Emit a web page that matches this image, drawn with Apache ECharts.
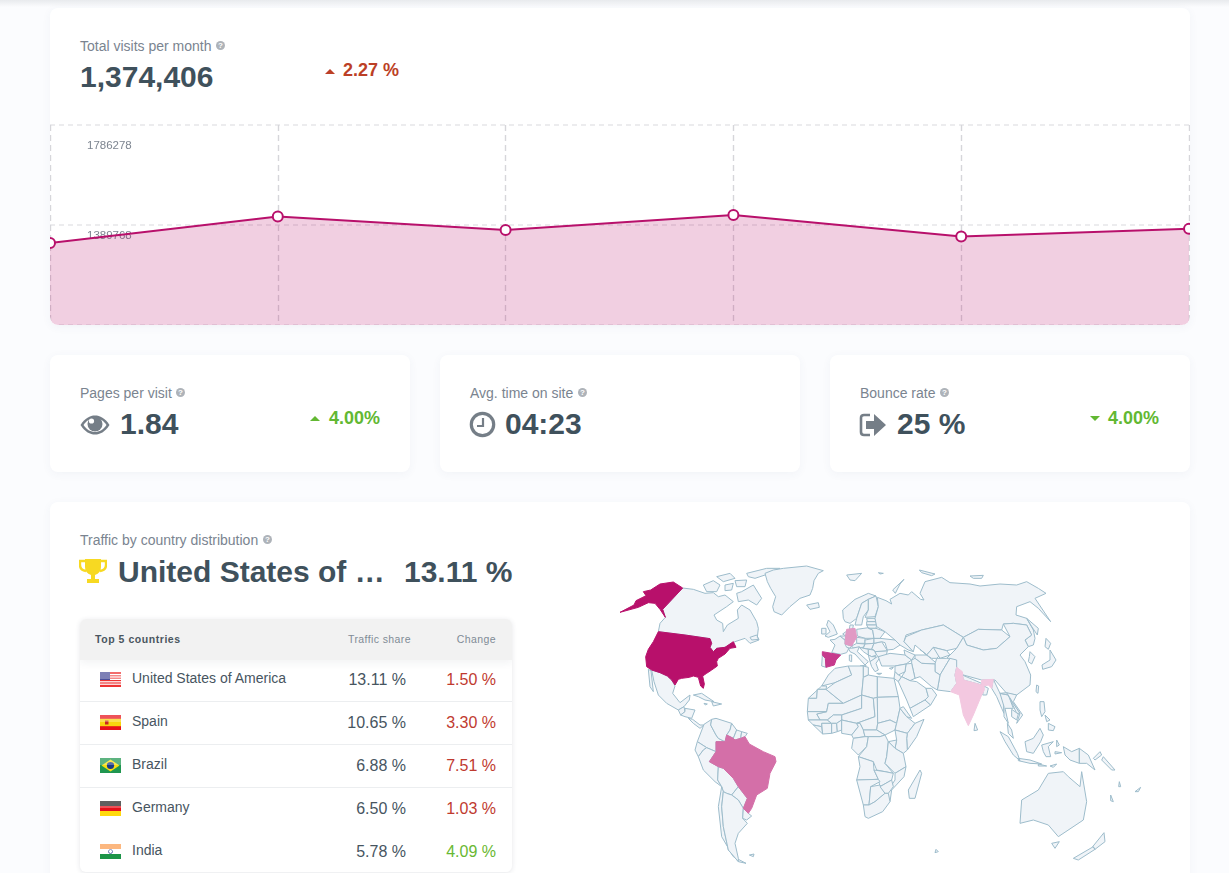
<!DOCTYPE html>
<html>
<head>
<meta charset="utf-8">
<title>Traffic overview</title>
<script src="https://cdn.jsdelivr.net/npm/echarts@6/dist/echarts.min.js"></script>
<style>
  html, body { margin: 0; padding: 0; width: 1229px; height: 873px; overflow: hidden; background: #fbfcfe;
    font-family: "Liberation Sans", Arial, sans-serif; }
  #page { position: relative; width: 1229px; height: 873px; overflow: hidden; }
  #topbar { position: absolute; left: 0; top: 0; width: 1229px; height: 7px;
    background: linear-gradient(#e8eaed, rgba(232,234,237,0)); }
  .card { position: absolute; background: #fff; border-radius: 8px; box-shadow: 0 2px 10px rgba(60,80,110,.05); }
  .abs { position: absolute; white-space: nowrap; }
  .caption { font-size: 14px; line-height: 16px; color: #7a8490; }
  .big { font-weight: bold; font-size: 30px; line-height: 34px; color: #3f515c; }
  .delta { font-weight: bold; font-size: 18px; line-height: 22px; }
  .q { position: absolute; width: 9px; height: 9px; border-radius: 50%; background: #aeb3b9; color: #fff;
    font-size: 8px; font-weight: bold; line-height: 9px; text-align: center; }
  .tri { position: absolute; width: 0; height: 0; border-left: 5px solid transparent; border-right: 5px solid transparent; }
  .up { border-bottom: 5px solid; }
  .down { border-top: 5px solid; }
  #chartBox { position: absolute; left: 0; top: 112px; width: 1140px; height: 205px; overflow: hidden;
    border-radius: 0 0 8px 8px; }
  #lineChart { width: 1140px; height: 205px; }
  #mapChart { position: absolute; left: 600px; top: 560px; width: 560px; height: 313px; }
  #table { position: absolute; left: 80px; top: 619px; width: 432px; height: 253px; background: #fff;
    border-radius: 6px; box-shadow: 0 1px 5px rgba(40,50,70,.12); overflow: hidden; }
  #thead { position: absolute; left: 0; top: 0; width: 432px; height: 41px; background: #f2f2f2;
    box-shadow: 0 3px 8px rgba(40,50,70,.06); z-index: 1; }
  .th { font-size: 10.5px; line-height: 14px; letter-spacing: .4px; color: #808b96; }
  .rowline { position: absolute; left: 0; width: 432px; height: 1px; background: #eceef0; }
  .name { font-size: 14px; line-height: 18px; color: #47555f; }
  .share { font-size: 16px; line-height: 20px; color: #47555f; }
</style>
</head>
<body>
<div id="page">
  <div id="topbar"></div>

  <div class="card" style="left:50px;top:8px;width:1140px;height:317px;overflow:hidden">
    <div id="chartBox"><div id="lineChart"></div></div>
  </div>
  <div class="abs caption" style="left:80px;top:38px">Total visits per month</div>
  <div class="q" style="left:216px;top:41px">?</div>
  <div class="abs big" id="totalVisits" style="left:80px;top:60px"></div>
  <div class="tri up" style="left:325px;top:69px;color:#bc3f26"></div>
  <div class="abs delta" id="totalDelta" style="left:343px;top:59px;color:#bc3f26"></div>

  <div class="card" style="left:50px;top:355px;width:360px;height:117px"></div>
  <div class="abs caption" style="left:80px;top:385px">Pages per visit</div>
  <div class="q" style="left:176px;top:388px">?</div>
  <svg class="abs" style="left:80px;top:413px" width="30" height="24" viewBox="0 0 30 24">
    <path d="M0.5 12C5 5 10 2.5 15 2.5S25 5 29.5 12C25 19 20 21.5 15 21.5S5 19 0.5 12Z" fill="#757e87"/>
    <path d="M3.5 12C7 7 11 5 15 5S23 7 26.5 12C23 17 19 19 15 19S7 17 3.5 12Z" fill="#fff"/>
    <circle cx="15" cy="11" r="7.5" fill="#757e87"/>
    <circle cx="11.5" cy="8" r="2.6" fill="#fff"/>
  </svg>
  <div class="abs big" style="left:120px;top:407px">1.84</div>
  <div class="tri up" style="left:310px;top:416px;color:#62b832"></div>
  <div class="abs delta" style="left:329px;top:407px;color:#62b832">4.00%</div>

  <div class="card" style="left:440px;top:355px;width:360px;height:117px"></div>
  <div class="abs caption" style="left:470px;top:385px">Avg. time on site</div>
  <div class="q" style="left:578px;top:388px">?</div>
  <svg class="abs" style="left:469px;top:411px" width="27" height="27" viewBox="0 0 27 27">
    <circle cx="13.5" cy="13.5" r="11.2" fill="none" stroke="#757e87" stroke-width="3.2"/>
    <path d="M14 7V15H8" fill="none" stroke="#757e87" stroke-width="2.2"/>
  </svg>
  <div class="abs big" style="left:505px;top:407px">04:23</div>

  <div class="card" style="left:830px;top:355px;width:360px;height:117px"></div>
  <div class="abs caption" style="left:860px;top:385px">Bounce rate</div>
  <div class="q" style="left:940px;top:388px">?</div>
  <svg class="abs" style="left:859px;top:412px" width="28" height="26" viewBox="0 0 28 26">
    <path d="M11 3H5Q2 3 2 6V20Q2 23 5 23H11" fill="none" stroke="#757e87" stroke-width="2.6"/>
    <path d="M7 9H15V2L27 13L15 24V17H7Z" fill="#757e87"/>
  </svg>
  <div class="abs big" style="left:897px;top:407px">25 %</div>
  <div class="tri down" style="left:1090px;top:416px;color:#62b832"></div>
  <div class="abs delta" style="left:1108px;top:407px;color:#62b832">4.00%</div>

  <div class="card" style="left:50px;top:502px;width:1140px;height:420px"></div>
  <div class="abs caption" style="left:80px;top:532px">Traffic by country distribution</div>
  <div class="q" style="left:263px;top:535px">?</div>
  <svg class="abs" style="left:79px;top:558px" width="28" height="26" viewBox="0 0 28 26">
    <path d="M6 1H22V9Q22 15 16 17V21H20V25H8V21H12V17Q6 15 6 9Z" fill="#f7d922"/>
    <path d="M6 3H1V7Q1 12 7 13M22 3H27V7Q27 12 21 13" fill="none" stroke="#f7d922" stroke-width="2.4"/>
  </svg>
  <div class="abs big" style="left:118px;top:555px">United States of …</div>
  <div class="abs big" id="topShare" style="left:404px;top:555px"></div>

  <div id="table">
    <div id="thead">
      <div class="abs th" style="left:15px;top:13px;font-weight:bold;letter-spacing:.55px;color:#4a5660">Top 5 countries</div>
      <div class="abs th" style="right:101px;top:13px">Traffic share</div>
      <div class="abs th" style="right:16px;top:13px">Change</div>
    </div>
  </div>

  <div id="mapChart"></div>
</div>

<script>
// Monthly visits for the trend panel
const periods = ['1', '2', '3', '4', '5', '6'];
const visits = [1318400, 1423500, 1369900, 1429400, 1343900, 1374406];
const visitAxisTicks = [993258, 1389768, 1786278];
const visitAxisLabels = [1389768, 1786278];
const visitChange = '2.27 %';

// Top countries by traffic share
const countries = ['United States of America', 'Spain', 'Brazil', 'Germany', 'India'];
const trafficShare = [13.11, 10.65, 6.88, 6.5, 5.78];
const shareChange = [1.5, 3.3, 7.51, 1.03, 4.09];
const changeRising = [false, false, false, false, true];
const shareShades = ['#b8106b', '#c63a8c', '#d46fa8', '#e19ac4', '#f3c8e0'];

// Planar country outlines, one sheet per hemisphere; each sheet has its own origin at 1/3 scale
const westOrigin = [610, 560];
const westOutlines = [
  ['United States of America',
    '190,66 218,84 158,148 166,172 150,148 135,130 115,128 85,142 30,157 72,135 78,122 108,107 100,95 122,90 150,72',
    '145,215 225,225 300,236 305,250 300,262 310,275 320,265 345,262 370,245 378,262 360,265 345,282 325,295 320,305 322,318 305,330 290,340 278,348 283,372 280,385 272,378 265,352 250,348 238,352 215,355 205,358 195,375 185,360 172,348 150,338 125,330 110,320 107,290 115,268 130,245'],
  ['Canada',
    '218,84 250,88 285,100 310,98 325,110 345,105 370,125 350,140 312,165 320,180 338,190 340,215 352,195 385,175 382,150 395,135 420,150 440,185 445,205 442,232 447,240 420,250 405,235 375,245 345,262 320,265 310,275 300,262 305,250 300,236 225,225 145,215 150,190 166,172 158,148',
    '280,75 310,62 330,75 320,95 290,95', '320,50 360,40 375,55 340,65', '375,62 410,60 405,80 380,80', '345,75 370,70 365,90 345,92',
    '380,100 395,95 430,75 455,115 440,135 415,120 385,125', '410,40 470,25 510,25 465,45 435,55 415,50',
    '420,232 440,225 447,238 425,240'],
  ['Greenland', '465,40 490,30 520,25 590,18 640,32 625,40 612,62 608,85 600,105 570,115 540,140 515,165 492,155 488,140 497,110 482,85 472,65'],
  ['Mexico', '125,330 150,338 172,348 185,360 195,378 188,400 210,428 240,405 238,420 222,440 205,450 170,430 145,405 132,365'],
  ['Baja California', '115,328 123,332 130,395 120,380'],
  ['Guatemala', '205,450 222,440 225,455 212,465'],
  ['Honduras', '225,445 255,450 245,475 225,470 212,465 225,455'],
  ['Panama', '235,475 248,478 270,495 282,495 270,505 250,490'],
  ['Cuba', '250,405 275,400 312,425 285,420 265,410'],
  ['Hispaniola', '305,425 335,432 310,438'],
  ['Jamaica', '282,430 292,432 286,435'],
  ['Colombia', '282,493 305,478 302,495 318,525 325,535 345,545 318,545 318,575 290,563 262,545'],
  ['Venezuela', '305,478 318,475 365,490 360,510 350,525 345,545 325,535 318,525 302,495'],
  ['Guyana', '365,490 380,510 370,535 350,525 360,510'],
  ['Suriname', '380,510 395,515 392,535 375,540 370,535'],
  ['French Guiana', '395,515 412,520 405,530 392,535'],
  ['Brazil', '318,545 345,545 350,525 370,535 375,540 392,535 405,530 418,552 460,575 495,590 498,605 480,640 472,685 440,705 425,745 415,760 400,745 412,715 385,680 370,655 340,625 325,620 298,605 318,575'],
  ['Ecuador', '262,545 290,563 280,570 265,590 255,570'],
  ['Peru', '265,590 280,570 290,563 318,575 298,605 325,620 323,660 335,680 315,665 280,630'],
  ['Bolivia', '325,620 340,625 370,655 385,680 365,705 350,700 340,695 335,680 323,660'],
  ['Paraguay', '365,705 385,680 412,715 400,745 385,720'],
  ['Chile', '335,680 340,695 335,740 340,800 355,870 385,905 408,910 370,890 335,830 325,740'],
  ['Argentina', '340,695 350,700 365,705 385,720 400,745 398,775 412,790 385,820 375,850 385,895 385,905 355,870 340,800 335,740'],
  ['Uruguay', '400,745 415,760 425,768 410,780 398,775'],
  ['Falkland Islands', '418,885 432,882 430,890']
];
const eastOrigin = [800, 560];
const eastOutlines = [
  ['Iceland', '20,135 55,128 58,142 30,148'],
  ['Svalbard', '140,45 185,40 165,62 150,60', '235,38 250,40 240,42'],
  ['Spain', '67,275 95,280 122,285 108,300 103,315 78,322 76,295 67,285'],
  ['Portugal', '67,285 76,295 78,322 65,318'],
  ['Germany', '140,208 165,205 170,232 155,258 135,252 137,228'],
  ['France', '90,240 105,238 120,228 135,240 135,252 150,258 140,278 122,283 95,278 105,255'],
  ['United Kingdom', '85,180 100,195 112,222 85,232 75,228 90,215 80,195'],
  ['Ireland', '65,205 78,205 78,222 65,222'],
  ['Netherlands', '128,222 142,212 137,228'],
  ['Belgium', '120,228 137,228 135,240'],
  ['Denmark', '150,195 160,195 158,208 148,208'],
  ['Norway', '130,175 128,150 165,118 205,100 228,108 205,118 185,130 170,175 150,190 135,185'],
  ['Sweden', '170,175 185,130 205,118 205,150 190,170 185,195 165,195'],
  ['Finland', '205,118 228,108 235,140 225,170 195,172 205,150'],
  ['Estonia', '200,175 225,175 228,185 202,185'],
  ['Latvia', '200,185 228,185 230,195 200,195'],
  ['Lithuania', '200,195 230,195 228,205 205,205'],
  ['Poland', '170,208 205,203 218,210 222,235 195,235 172,228'],
  ['Czechia', '170,232 195,235 195,250 170,250'],
  ['Switzerland', '135,252 155,258 150,265 140,262'],
  ['Austria', '155,258 170,250 195,252 190,262 160,264'],
  ['Slovakia', '195,240 222,235 222,250 195,252'],
  ['Hungary', '195,252 222,250 215,268 190,265'],
  ['Italy', '145,265 160,264 178,260 172,275 205,305 195,315 165,282 150,275', '180,318 198,315 195,328', '148,285 155,285 155,305 148,302'],
  ['Croatia', '178,262 205,268 205,285 190,275'],
  ['Serbia', '205,268 222,270 230,285 215,290 205,285'],
  ['Albania', '205,285 215,290 228,290 220,300 210,305'],
  ['Greece', '210,305 232,290 240,292 228,310 235,330 225,335 215,320', '230,340 245,340 238,344'],
  ['Bulgaria', '225,275 262,272 258,290 235,290 230,285'],
  ['Romania', '222,250 245,245 262,272 225,275 222,270 215,268'],
  ['Ukraine', '222,235 240,235 285,240 300,255 280,268 262,270 255,248 245,245 222,250'],
  ['Belarus', '205,205 228,205 255,215 240,235 222,235 218,210'],
  ['Turkey', '235,290 270,280 315,285 335,300 318,312 285,318 245,318 240,305'],
  ['Georgia', '312,270 345,285 335,300 315,285'],
  ['Cyprus', '268,325 280,322 275,328'],
  ['Russia',
    '232,112 258,122 275,132 270,118 300,100 325,105 335,95 362,118 372,120 360,100 375,65 425,52 450,68 510,72 540,78 600,72 650,75 680,65 715,85 738,100 705,115 752,185 715,145 690,125 650,140 648,165 680,175 700,210 705,235 700,255 685,260 675,240 695,225 680,195 640,190 610,192 605,210 535,208 490,232 430,195 365,210 318,225 312,245 340,275 325,270 300,255 285,240 255,215 230,200 225,175 235,140',
    '278,90 312,58 300,72 286,100', '358,30 405,42 395,47 365,38', '510,48 550,46 545,55 520,55', '680,175 715,205 712,225 692,195'],
  ['Kazakhstan', '318,230 365,210 430,195 490,232 470,265 440,272 400,262 380,285 360,268 345,255 340,275 312,245'],
  ['Mongolia', '490,232 535,208 605,210 630,230 590,265 550,270 500,255'],
  ['China', '490,232 500,255 550,270 590,265 630,230 610,192 640,190 680,195 695,225 675,240 685,260 660,285 675,305 692,345 690,375 650,405 620,400 585,360 545,360 490,345 470,322 440,295 470,265'],
  ['Turkmenistan', '345,285 380,285 410,310 405,312 365,310 345,295'],
  ['Uzbekistan', '360,268 380,285 400,262 420,285 410,295 395,295 380,285'],
  ['Kyrgyzstan', '400,262 440,272 450,285 420,295'],
  ['Afghanistan', '405,312 410,295 440,295 450,295 420,345 405,335'],
  ['Pakistan', '420,345 450,295 470,300 470,322 465,345 470,370 452,395 412,390'],
  ['Iran', '335,300 345,295 365,310 405,312 405,335 420,345 412,390 395,380 360,350 345,355 335,310'],
  ['Iraq', '318,312 335,310 345,355 330,362 305,350 315,335'],
  ['Syria', '285,318 318,312 315,335 295,345 285,335'],
  ['Jordan', '285,335 295,345 305,350 295,365 282,355'],
  ['Saudi Arabia', '295,365 305,350 330,362 350,365 378,385 385,410 375,420 330,445 320,420'],
  ['Yemen', '330,445 375,420 392,435 340,470'],
  ['Oman', '378,385 395,385 410,405 392,435 375,420 385,410'],
  ['India', '470,322 487,335 490,360 545,375 545,360 580,358 575,385 565,375 552,378 553,390 545,405 520,465 505,497 490,465 478,405 452,395 470,370 465,345'],
  ['Nepal', '487,345 545,370 545,375 490,360'],
  ['Bangladesh', '552,378 565,385 560,405 548,405'],
  ['Sri Lanka', '525,490 533,510 522,512'],
  ['Myanmar', '580,358 600,400 610,420 612,460 605,445 590,410 575,385'],
  ['Thailand', '600,400 625,405 640,445 615,445 625,490 612,470 612,440'],
  ['Laos', '600,400 620,398 640,430 660,460 650,460 625,405'],
  ['Vietnam', '620,398 650,405 640,425 668,465 650,490 660,460 640,430'],
  ['Cambodia', '635,448 655,462 650,480 635,470'],
  ['Malaysia', '622,490 635,510 640,535 625,520'],
  ['Taiwan', '710,375 716,378 714,400 708,395'],
  ['South Korea', '690,275 705,290 695,312 685,305 688,290'],
  ['Japan', '738,235 752,250 745,268 735,260', '750,270 768,300 755,320 728,328 726,315 750,300'],
  ['Philippines', '720,425 732,425 735,455 725,470 720,450', '745,490 765,500 760,512 745,510', '735,465 750,480 740,485'],
  ['Indonesia', '675,545 700,535 720,505 730,525 722,545 700,580 680,575', '600,515 625,530 652,580 660,602 640,585 615,545',
    '655,595 690,600 725,612 690,610 655,602', '725,555 760,545 745,560 752,590 738,590 730,575', '750,618 770,612 760,622',
    '715,612 740,618 715,618', '765,575 785,578 765,582', '770,540 778,555 770,560',
    '790,560 815,575 838,565 838,610 810,600 795,585'],
  ['Papua New Guinea', '838,565 865,585 885,630 860,610 838,610', '880,595 900,575 905,585 885,600'],
  ['Solomon Islands', '910,590 945,630 935,630 905,600'],
  ['Vanuatu', '958,665 962,680 956,680'],
  ['New Caledonia', '932,705 940,725 932,722'],
  ['Fiji', '1005,695 1022,682 1015,695'],
  ['Australia', '660,790 665,720 715,690 745,640 790,635 805,650 840,680 845,635 860,725 850,780 775,830 745,795 700,780', '755,850 778,845 765,865'],
  ['New Zealand', '820,895 880,860 885,868 835,900', '878,860 912,818 915,845 885,868'],
  ['Kerguelen', '408,868 415,875 405,878'],
  ['Morocco', '105,325 145,318 155,345 105,368 65,378 85,345'],
  ['Western Sahara', '65,378 80,378 78,388 52,388 50,415 25,415'],
  ['Mauritania', '25,415 50,415 52,388 78,388 130,430 85,430 80,455 22,455'],
  ['Algeria', '145,318 190,318 190,352 185,405 130,430 78,388 105,368 155,345'],
  ['Tunisia', '190,318 205,322 205,345 190,352'],
  ['Libya', '205,345 232,350 232,412 220,415 185,405 190,352'],
  ['Egypt', '232,350 282,355 295,410 232,412'],
  ['Mali', '80,455 85,430 130,430 185,405 185,445 125,465 100,465 82,480 60,480 50,462'],
  ['Niger', '185,405 220,415 225,470 170,490 125,480 125,465 185,445'],
  ['Chad', '220,415 232,412 233,490 230,510 190,510 180,490 170,490 225,470'],
  ['Sudan', '232,412 295,410 300,445 290,490 270,480 233,490'],
  ['South Sudan', '233,490 270,480 290,490 285,510 255,525 230,510'],
  ['Ethiopia', '290,490 300,445 320,470 345,490 322,520 285,510'],
  ['Eritrea', '300,445 310,440 335,475 320,470'],
  ['Somalia', '345,490 372,478 350,530 322,570 320,535 322,520'],
  ['Kenya', '285,510 322,520 320,535 322,570 310,580 285,565 290,540'],
  ['Senegal', '22,455 80,455 50,462 60,480 25,480'],
  ['Guinea', '25,480 60,480 82,480 95,490 65,490 65,500 40,495'],
  ['Liberia', '40,495 65,500 68,522'],
  ['Ivory Coast', '65,490 95,490 95,520 68,522'],
  ['Burkina Faso', '82,480 100,465 125,465 125,480 110,490 95,490'],
  ['Ghana', '95,490 110,490 112,515 95,520'],
  ['Benin', '110,490 125,480 125,510 112,515'],
  ['Nigeria', '125,480 170,490 175,500 155,525 125,520'],
  ['Cameroon', '170,490 180,490 190,510 195,530 160,535 155,525 175,500'],
  ['Central African Republic', '190,510 230,510 255,525 240,530 205,530 195,530'],
  ['Gabon', '160,535 195,530 205,530 200,560 175,585 155,565'],
  ['Democratic Republic of the Congo', '205,530 240,530 255,525 265,545 260,590 255,610 280,640 255,635 230,630 220,605 175,590 200,560'],
  ['Uganda', '265,545 290,540 285,565'],
  ['Tanzania', '265,545 285,565 310,580 318,620 285,640 255,610 260,590'],
  ['Angola', '175,590 220,605 222,630 235,658 170,660 180,620'],
  ['Zambia', '222,630 255,635 280,640 275,660 240,680 235,658'],
  ['Mozambique', '318,620 312,650 275,690 270,725 258,720 265,690 285,660 285,640'],
  ['Namibia', '170,660 235,658 240,665 212,680 207,735 190,735'],
  ['Botswana', '212,680 240,675 255,700 225,725 207,735'],
  ['Zimbabwe', '240,680 275,660 280,680 265,700 255,700'],
  ['South Africa', '190,735 207,735 225,725 255,700 265,700 270,725 248,755 205,775 195,770'],
  ['Madagascar', '360,630 365,640 345,715 328,715 325,690']
];

// Turn a sheet of outline strings into GeoJSON features in page pixels
function sheetToFeatures(sheet, origin) {
  return sheet.map(function (row) {
    const rings = row.slice(1).map(function (text) {
      const pts = text.split(' ').map(function (pair) {
        const xy = pair.split(',').map(Number);
        return [origin[0] + xy[0] / 3, origin[1] + xy[1] / 3];
      });
      pts.push(pts[0]);
      return [pts];
    });
    return { type: 'Feature', properties: { name: row[0] }, geometry: { type: 'MultiPolygon', coordinates: rings } };
  });
}
// Ranked countries are painted last so neighbouring borders stay underneath them
const allFeatures = sheetToFeatures(westOutlines, westOrigin).concat(sheetToFeatures(eastOutlines, eastOrigin));
const isRanked = function (f) { return countries.indexOf(f.properties.name) >= 0; };
echarts.registerMap('worldOutline', {
  type: 'FeatureCollection',
  features: allFeatures.filter(function (f) { return !isRanked(f); }).concat(allFeatures.filter(isRanked))
});

// Small glossy flags for the table rows
const flagArt = {
  'United States of America': '<rect width="21" height="15" fill="#e33"/><g fill="#fff"><rect y="2" width="21" height="1.2"/><rect y="4.4" width="21" height="1.2"/><rect y="6.8" width="21" height="1.2"/><rect y="9.2" width="21" height="1.2"/><rect y="11.6" width="21" height="1.2"/></g><rect width="10" height="8" fill="#4b4f9a"/>',
  'Spain': '<rect width="21" height="15" fill="#e8101a"/><rect y="3.8" width="21" height="7.4" fill="#f8d40e"/><rect x="5" y="5.5" width="3.5" height="4" fill="#c8281e"/>',
  'Brazil': '<rect width="21" height="15" fill="#1f9650"/><path d="M10.5 1.5L19.5 7.5L10.5 13.5L1.5 7.5Z" fill="#f8de10"/><circle cx="10.5" cy="7.5" r="3.6" fill="#1a3a86"/>',
  'Germany': '<rect width="21" height="5" fill="#222"/><rect y="5" width="21" height="5" fill="#e4101a"/><rect y="10" width="21" height="5" fill="#ffd90c"/>',
  'India': '<rect width="21" height="5" fill="#fb9c4e"/><rect y="5" width="21" height="5" fill="#fff"/><rect y="10" width="21" height="5" fill="#1c9448"/><circle cx="10.5" cy="7.5" r="2" fill="none" stroke="#3b4c9a" stroke-width=".8"/>'
};
function flagSvg(name) {
  return '<svg width="21" height="15" viewBox="0 0 21 15">' + flagArt[name] +
    '<rect width="21" height="7" fill="#fff" opacity=".28"/></svg>';
}

// Figures quoted in the panels come from the same arrays as the marks
document.getElementById('totalVisits').textContent = visits[visits.length - 1].toLocaleString('en-US');
document.getElementById('totalDelta').textContent = visitChange;
document.getElementById('topShare').textContent = trafficShare[0].toFixed(2) + ' %';

// Table rows
const rowTops = [40, 83, 126, 169, 212];
const table = document.getElementById('table');
countries.forEach(function (name, i) {
  const rowTop = rowTops[i];
  const html =
    '<div class="abs" style="left:20px;top:' + (rowTop + 13) + 'px;height:15px">' + flagSvg(name) + '</div>' +
    '<div class="abs name" style="left:52px;top:' + (rowTop + 10) + 'px">' + name + '</div>' +
    '<div class="abs share" style="right:106px;top:' + (rowTop + 11) + 'px">' + trafficShare[i].toFixed(2) + ' %</div>' +
    '<div class="abs share" style="right:16px;top:' + (rowTop + 11) + 'px;color:' + (changeRising[i] ? '#69b832' : '#bf3a2f') + '">' + shareChange[i].toFixed(2) + ' %</div>' +
    (i > 0 && i < 4 ? '<div class="rowline" style="top:' + (rowTop - 1) + 'px"></div>' : '');
  table.insertAdjacentHTML('beforeend', html);
});

// Visits trend
const lineChart = echarts.init(document.getElementById('lineChart'));
lineChart.setOption({
  animation: false,
  grid: { left: 0, right: 1, top: 5, bottom: 0 },
  xAxis: {
    type: 'category', data: periods, boundaryGap: false,
    axisLine: { show: false }, axisTick: { show: false }, axisLabel: { show: false },
    splitLine: { show: true, lineStyle: { color: '#d6d6da', type: [6, 4], width: 1.4 } }
  },
  yAxis: {
    type: 'value', min: visitAxisTicks[0], max: visitAxisTicks[2],
    axisLine: { show: false },
    axisTick: { show: false, customValues: visitAxisTicks },
    axisLabel: {
      customValues: visitAxisLabels, inside: true, margin: 37, verticalAlign: 'top',
      formatter: function (v) {
        return (v === visitAxisTicks[2] ? '{high|' : '{mid|') + v + '}';
      },
      rich: {
        high: { color: '#7d8590', fontSize: 11.5, fontFamily: 'Liberation Sans', padding: [15, 0, 0, 0] },
        mid: { color: '#7d8590', fontSize: 11.5, fontFamily: 'Liberation Sans', padding: [5, 0, 0, 0] }
      }
    },
    splitLine: { show: true, lineStyle: { color: '#ececee', type: [5, 4], width: 2 } }
  },
  series: [{
    type: 'line', data: visits, clip: false, symbol: 'circle', symbolSize: 10, showAllSymbol: true,
    itemStyle: { color: '#fff', borderColor: '#b8106b', borderWidth: 2 },
    lineStyle: { color: '#b8106b', width: 2 },
    areaStyle: { color: '#b8106b', opacity: 0.2 }
  }]
});

// Traffic share by country; the outlines are already planar, so the projection passes them through
const mapChart = echarts.init(document.getElementById('mapChart'));
mapChart.setOption({
  animation: false,
  series: [{
    type: 'map', map: 'worldOutline', roam: false, selectedMode: false, silent: true,
    projection: { project: function (p) { return p; }, unproject: function (p) { return p; } },
    boundingCoords: [[600, 560], [1160, 873]],
    left: 0, top: 0, width: 560, height: 313,
    label: { show: false },
    itemStyle: { areaColor: '#f0f4f8', borderColor: '#9dbccb', borderWidth: 1 },
    data: countries.map(function (name, i) {
      return { name: name, value: trafficShare[i], itemStyle: { areaColor: shareShades[i], borderColor: shareShades[i] } };
    })
  }]
});
</script>
</body>
</html>
